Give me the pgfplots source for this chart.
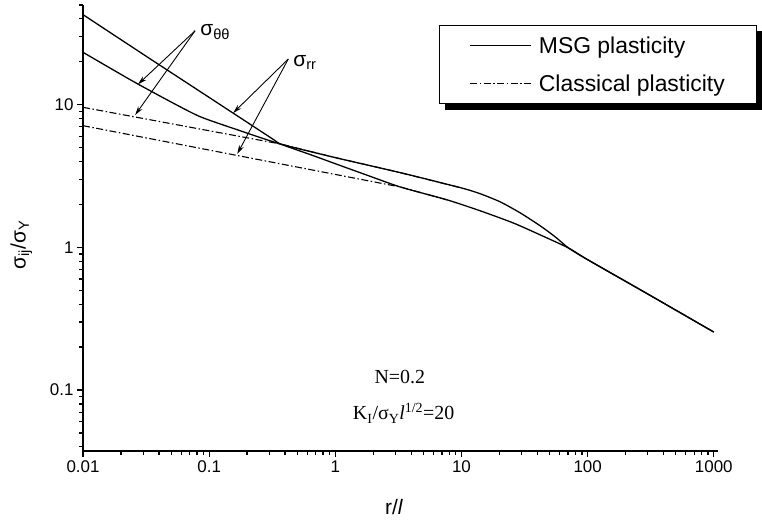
\documentclass[border=0pt]{standalone}
\usepackage{fontspec}
\setmainfont{Liberation Sans}
\newfontfamily\timesfont{Liberation Serif}
\usepackage{pgfplots}
\pgfplotsset{compat=1.18}
\usetikzlibrary{arrows.meta,calc,backgrounds}

% sigma_rr, MSG plasticity
\pgfplotstableread{
x y
0.01 42.8
0.0316 21.9
0.1 11.25
0.316 5.78
0.366 5.31
0.634 4.47
1.0 3.86
1.78 3.21
3.28 2.65
7.74 2.15
14.2 1.80
25.9 1.48
42.4 1.22
70.6 0.99
100 0.82
300 0.471
1000 0.255
}\rrmsg
% sigma_thetatheta, MSG plasticity
\pgfplotstableread{
x y
0.01 23.3
0.0249 14.6
0.0518 10.27
0.0849 8.24
0.155 6.83
0.366 5.31
1.0 4.26
3.28 3.34
10 2.61
14.2 2.37
20.4 2.08
29.4 1.74
42.4 1.41
55.7 1.18
70.6 0.99
100 0.82
300 0.471
1000 0.255
}\ttmsg
% sigma_thetatheta, classical plasticity
\pgfplotstableread{
x y
0.01 9.59
0.366 5.31
1.0 4.26
3.28 3.34
10 2.61
}\ttcl
% sigma_rr, classical plasticity
\pgfplotstableread{
x y
0.01 7.13
3.28 2.65
7.74 2.15
}\rrcl

\begin{document}
\begin{tikzpicture}
\begin{axis}[
  scale only axis, width=635bp, height=446bp,
  xmode=log, ymode=log,
  xmin=0.01, xmax=1080, ymin=0.0374, ymax=50,
  axis x line*=bottom, axis y line*=left,
  axis line style={line width=1.6pt},
  tick align=outside,
  major tick length=6bp, minor tick length=4bp,
  every tick/.append style={line width=1.3pt, black},
  xtick={0.01,0.1,1,10,100,1000},
  xticklabels={0.01,0.1,1,10,100,1000},
  minor xtick={0.02,0.03,0.04,0.05,0.06,0.07,0.08,0.09,0.2,0.3,0.4,0.5,0.6,0.7,0.8,0.9,2,3,4,5,6,7,8,9,20,30,40,50,60,70,80,90,200,300,400,500,600,700,800,900},
  ytick={0.1,1,10},
  yticklabels={0.1,1,10},
  minor ytick={0.04,0.05,0.06,0.07,0.08,0.09,0.2,0.3,0.4,0.5,0.6,0.7,0.8,0.9,2,3,4,5,6,7,8,9,20,30,40,50},
  /pgf/number format/assume math mode=true,
  tick label style={font=\fontsize{17}{19}\selectfont},
  xlabel={r/\textit{l}},
  ylabel={σ\textsubscript{ij}/σ\textsubscript{Y}},
  label style={font=\fontsize{21}{24}\selectfont},
  xlabel style={at={(axis description cs:0.49,-0.125)}, anchor=center},
  ylabel style={at={(axis description cs:-0.097,0.462)}, anchor=center},
  legend image code/.code={\draw[#1] (0bp,0bp) -- (61bp,0bp); \path (66bp,0bp);},
  legend cell align=left,
  legend style={name=leg, at={(axis description cs:0.561,0.955)}, anchor=north west,
    draw=black, line width=0.8pt, fill=white,
    font=\fontsize{23}{26}\selectfont,
    inner xsep=30bp, inner ysep=9bp, row sep=16bp},
]
\addplot[black, line width=1.3pt, smooth, tension=0.4] table {\rrmsg};
\addlegendentry{MSG plasticity}
\addplot[black, line width=1.1pt, dash pattern=on 7bp off 2.5bp on 1.5bp off 2.5bp] table {\ttcl};
\addlegendentry{Classical plasticity}
\addplot[black, line width=1.3pt, smooth, tension=0.4, forget plot] table {\ttmsg};
\addplot[black, line width=1.1pt, dash pattern=on 7bp off 2.5bp on 1.5bp off 2.5bp, forget plot] table {\rrcl};

\node[anchor=west, font=\fontsize{21}{23}\selectfont, inner sep=0pt] at (axis cs:0.0849,32.3) {σ\textsubscript{θθ}};
\node[anchor=west, font=\fontsize{21}{23}\selectfont, inner sep=0pt] at (axis cs:0.464,19.9) {σ\textsubscript{rr}};
\draw[-{Stealth[length=9bp,width=5bp]}, line width=0.9pt] (axis cs:0.0774,33.0) -- (axis cs:0.0273,13.9);
\draw[-{Stealth[length=9bp,width=5bp]}, line width=0.9pt] (axis cs:0.0774,33.0) -- (axis cs:0.0259,8.47);
\draw[-{Stealth[length=9bp,width=5bp]}, line width=0.9pt] (axis cs:0.424,20.9) -- (axis cs:0.155,8.75);
\draw[-{Stealth[length=9bp,width=5bp]}, line width=0.9pt] (axis cs:0.424,20.9) -- (axis cs:0.167,4.52);

\node[font=\timesfont\fontsize{20}{22}\selectfont] at (axis description cs:0.499,0.166) {N=0.2};
\node[font=\timesfont\fontsize{20}{22}\selectfont] at (axis description cs:0.505,0.085) {K\textsubscript{I}/σ\textsubscript{Y}\textit{l}\textsuperscript{1/2}=20};
\end{axis}
\begin{scope}[on background layer]
\fill[black] ($(leg.south west)+(6bp,-6bp)$) rectangle ($(leg.north east)+(6bp,-6bp)$);
\end{scope}
\pgfresetboundingbox
\path ($(current axis.south west)+(-83bp,-70bp)$) rectangle ($(current axis.north east)+(44bp,5bp)$);
\end{tikzpicture}
\end{document}
